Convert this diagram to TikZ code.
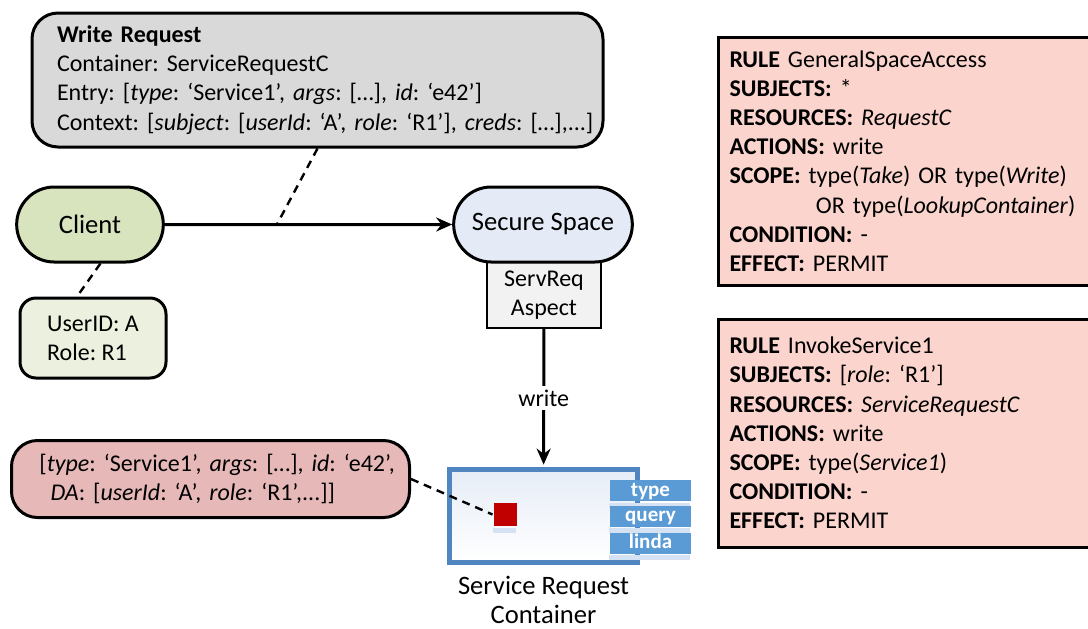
\documentclass[tikz,border=0pt]{standalone}
\usepackage{fontspec}
\setmainfont{Carlito}
\usetikzlibrary{arrows.meta,positioning,shapes.misc}
\definecolor{reqgray}{HTML}{D9D9D9}
\definecolor{clientgreen}{HTML}{D7E4BD}
\definecolor{userfill}{HTML}{EBF1DE}
\definecolor{spaceblue}{HTML}{E4EBF6}
\definecolor{aspectgray}{HTML}{F2F2F2}
\definecolor{entryred}{HTML}{E6B9B8}
\definecolor{rulepink}{HTML}{FAD4CD}
\definecolor{contblue}{HTML}{4F86C2}
\definecolor{contfill}{HTML}{E6EDF7}
\definecolor{tabblue}{HTML}{5B9BD5}
\definecolor{reflect}{HTML}{D5E2F3}
\definecolor{sqred}{HTML}{C00000}
% feste Wortabstaende
\newcommand{\fixspace}{\spaceskip=\fontdimen2\font\relax\frenchspacing}

\begin{document}
\begin{tikzpicture}[x=0.5pt,y=-0.5pt,line width=1.5pt,>=Stealth,
  font=\fontsize{12}{14.6}\selectfont\fixspace,
  pill/.style={rounded rectangle,draw,minimum width=96pt,minimum height=37.5pt,
    font=\fontsize{13.3}{16}\selectfont},
  roundbox/.style={draw,rounded corners=12pt,align=left},
  rulebox/.style={draw,fill=rulepink,anchor=west,minimum width=200pt,
    text width=190pt,align=left,inner xsep=5.5pt},
  tab/.style={fill=tabblue,text=white,font=\fontsize{10.5}{12}\selectfont\bfseries,
    minimum width=40.5pt,minimum height=10.5pt,inner sep=0pt,
    text height=7.5pt,text depth=2pt},
  dashline/.style={line width=1.2pt,dash pattern=on 4pt off 3pt}]
\useasboundingbox (0,0) rectangle (1088,628);
% Anfrage des Clients
\node[roundbox,fill=reqgray,minimum width=285.5pt,minimum height=67pt,
  text width=280pt,inner xsep=2.75pt,rounded corners=13pt] (wreq) at (317.5,80)
  {\hspace*{9.75pt}\textbf{Write Request}\\
   \hspace*{9.75pt}Container: ServiceRequestC\\
   \hspace*{9.75pt}Entry: [\textit{type}: ‘Service1’, \textit{args}: […], \textit{id}: ‘e42’]\\
   \hspace*{9.75pt}Context: [\textit{subject}: [\textit{userId}: ‘A’, \textit{role}: ‘R1’], \textit{creds}: […],...]};
% Client und Secure Space
\node[draw,fill=aspectgray,line width=0.75pt,minimum width=57pt,minimum height=33pt,
  align=center,inner sep=0pt] (aspect) at (544,295) {ServReq\\Aspect};
\node[pill,fill=clientgreen,minimum width=80pt] (client) at (90,224.5) {Client};
\node[pill,fill=spaceblue] (space) at (543,224.5) {Secure Space};
\draw[-{Stealth[length=8pt,width=7pt]}] (client) -- (space) coordinate[pos=0.39] (touch);
\draw[dashline] (wreq.south) -- (touch);
% Benutzerdaten
\node[roundbox,fill=userfill,minimum width=73pt,minimum height=40pt,rounded corners=8pt]
  (uid) at (93,338) {UserID: A\\Role: R1};
\draw[dashline] (client.-75) -- (uid.111);
% Container mit Eintrag
\node[draw=contblue,line width=2.5pt,top color=contfill,bottom color=white,
  minimum width=94pt,minimum height=46.5pt] (cont) at (543.5,516) {};
\draw[-{Stealth[length=8pt,width=7pt]},shorten >=1.2pt] (aspect) -- (cont)
  node[midway,fill=white,inner sep=2pt] (wlabel) {write};
\node[fill=sqred,minimum size=11.5pt,inner sep=0pt] (item) at (505.5,514.5) {};
\fill[reflect] (item.south west) rectangle ++(23,5);
\foreach \lbl/\y in {type/490.5,query/516,linda/543}{
  \node[tab] (tab-\lbl) at (650.5,\y) {\lbl};
  \fill[reflect] (tab-\lbl.south west) rectangle ++(81,5);
}
\node[below=5pt of cont,align=center,inner sep=0pt,font=\fontsize{13.3}{14.5}\selectfont]
  (contlabel) {Service Request\\Container};
% gespeicherter Eintrag
\node[roundbox,fill=entryred,rounded corners=13pt,minimum width=199pt,minimum height=38.5pt,
  text width=195pt,inner xsep=2pt,anchor=west] (entry) at (10,479)
  {\hspace*{12pt}[\textit{type}: ‘Service1’, \textit{args}: […], \textit{id}: ‘e42’,\\
   \hspace*{17.5pt}\textit{DA}: [\textit{userId}: ‘A’, \textit{role}: ‘R1’,...]]};
\draw[dashline] (entry.east) -- (item.west);
% Regeln
\node[rulebox,minimum height=124pt] (rule1) at (717,161)
  {\textbf{RULE} GeneralSpaceAccess\\
   \textbf{SUBJECTS:} *\\
   \textbf{RESOURCES:} \textit{RequestC}\\
   \textbf{ACTIONS:} write\\
   \textbf{SCOPE:} type(\textit{Take}) OR type(\textit{Write})\\
   \hspace*{3.6em}OR type(\textit{LookupContainer})\\
   \textbf{CONDITION:} -\\
   \textbf{EFFECT:} PERMIT};
\node[rulebox,minimum height=114pt] (rule2) at (717,433)
  {\textbf{RULE} InvokeService1\\
   \textbf{SUBJECTS:} [\textit{role}: ‘R1’]\\
   \textbf{RESOURCES:} \textit{ServiceRequestC}\\
   \textbf{ACTIONS:} write\\
   \textbf{SCOPE:} type(\textit{Service1})\\
   \textbf{CONDITION:} -\\
   \textbf{EFFECT:} PERMIT};
\end{tikzpicture}
\end{document}
